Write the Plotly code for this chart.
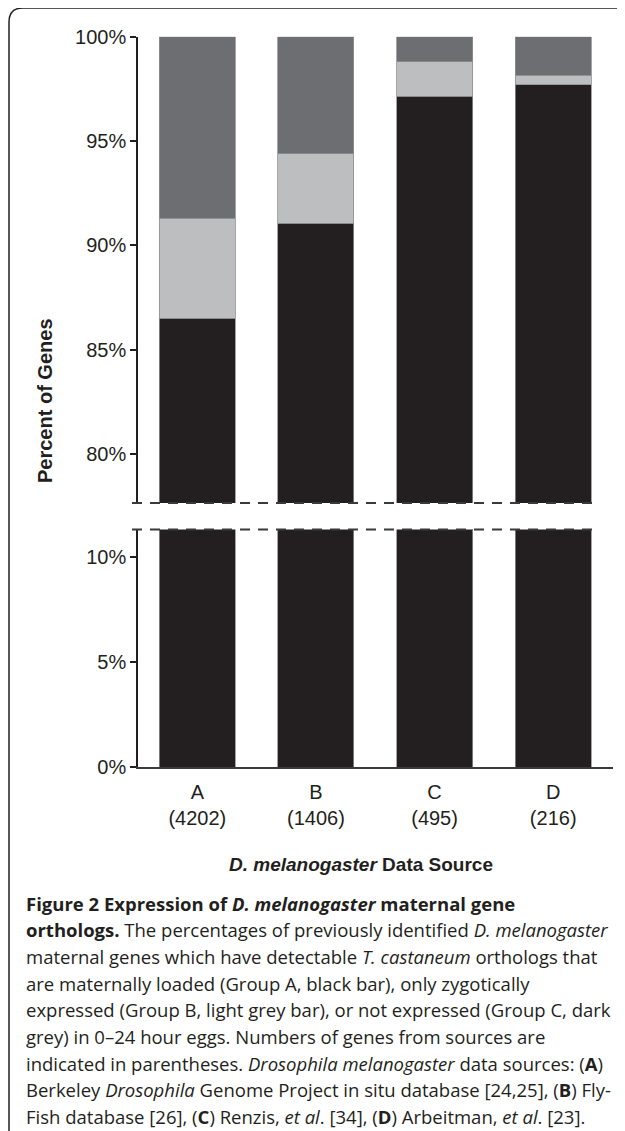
import plotly.graph_objects as go

categories = ["A<br>(4202)", "B<br>(1406)", "C<br>(495)", "D<br>(216)"]
maternal = [86.5, 91.05, 97.15, 97.7]       # Group A, black
zygotic = [4.8, 3.35, 1.65, 0.45]           # Group B, light grey
not_expressed = [8.7, 5.6, 1.2, 1.85]       # Group C, dark grey
top_ticks = [80, 85, 90, 95, 100]
bottom_ticks = [0, 5, 10]

W, H = 625, 1131
OX, OY = 8, 8  # page body margin offset compensation
def px(x):
    return (x - OX) / W
def py(y):
    return 1 - (y - OY) / H

colors = ["#231f20", "#bcbec0", "#6d6e71"]
series = [maternal, zygotic, not_expressed]

fig = go.Figure()
for xa, ya in [("x", "y"), ("x2", "y2")]:
    for vals, c in zip(series, colors):
        fig.add_trace(go.Bar(x=categories, y=vals, xaxis=xa, yaxis=ya,
                             marker=dict(color=c, line=dict(color="#8f8f8f", width=0.8)),
                             showlegend=False))

FONT = "Liberation Sans, Arial, sans-serif"
axis_col = "#231f20"
xdom = [px(138), px(612.5)]

fig.update_layout(
    width=W, height=H, barmode="stack", bargap=0.36,
    margin=dict(l=0, r=0, t=0, b=0, pad=0, autoexpand=False),
    paper_bgcolor="white", plot_bgcolor="white",
    font=dict(family=FONT, size=20, color=axis_col),
    xaxis=dict(domain=xdom, anchor="y", showticklabels=False, showline=False,
               ticks="", showgrid=False, zeroline=False, type="category"),
    yaxis=dict(domain=[py(503), py(36.7)], range=[77.65, 100], anchor="x",
               tickmode="array", tickvals=top_ticks,
               ticktext=[f"{v}%" for v in top_ticks], ticks="outside", ticklen=6,
               tickwidth=1.5, tickcolor=axis_col, showline=True, linecolor=axis_col,
               linewidth=1.5, showgrid=False, zeroline=False,
               tickfont=dict(size=20, family=FONT)),
    xaxis2=dict(domain=xdom, anchor="y2", showline=True, linecolor="#3a3a3a", linewidth=1.5,
                ticks="", showgrid=False, zeroline=False, type="category",
                ticklabelstandoff=6, tickfont=dict(size=20, family=FONT)),
    yaxis2=dict(domain=[py(767), py(529.5)], range=[0, 11.3], anchor="x2",
                tickmode="array", tickvals=bottom_ticks,
                ticktext=[f"{v}%" for v in bottom_ticks], ticks="outside", ticklen=6,
                tickwidth=1.5, tickcolor=axis_col, showline=True, linecolor=axis_col,
                linewidth=1.5, showgrid=False, zeroline=False,
                tickfont=dict(size=20, family=FONT)),
)

# break markers (dashed lines)
for yb in [503, 529.5]:
    fig.add_shape(type="line", xref="paper", yref="paper",
                  x0=px(132), x1=px(598), y0=py(yb), y1=py(yb),
                  line=dict(color="#3a3a3a", width=2, dash="10px,8px"))

# frame with rounded top-left corner
r = 14
path = (f"M {px(9)},{py(1140)} L {px(9)},{py(8 + r)} "
        f"Q {px(9)},{py(8)} {px(9 + r)},{py(8)} L {px(640)},{py(8)}")
fig.add_shape(type="path", xref="paper", yref="paper", path=path,
              line=dict(color="#231f20", width=1.5))

# axis titles
fig.add_annotation(text="<b>Percent of Genes</b>", textangle=-90, x=px(45), y=py(401),
                   xref="paper", yref="paper", xanchor="center", yanchor="middle",
                   showarrow=False, font=dict(size=20, family=FONT, color="#231f20"))
fig.add_annotation(text="<b><i>D. melanogaster</i> Data Source</b>", x=px(361), y=py(864),
                   xref="paper", yref="paper", xanchor="center", yanchor="middle",
                   showarrow=False, font=dict(size=19, family=FONT, color="#231f20"))

caption_lines = [
    "<b>Figure 2 Expression of <i>D. melanogaster</i> maternal gene</b>",
    "<b>orthologs.</b> The percentages of previously identified <i>D. melanogaster</i>",
    "maternal genes which have detectable <i>T. castaneum</i> orthologs that",
    "are maternally loaded (Group A, black bar), only zygotically",
    "expressed (Group B, light grey bar), or not expressed (Group C, dark",
    "grey) in 0–24 hour eggs. Numbers of genes from sources are",
    "indicated in parentheses. <i>Drosophila melanogaster</i> data sources: (<b>A</b>)",
    "Berkeley <i>Drosophila</i> Genome Project in situ database [24,25], (<b>B</b>) Fly-",
    "Fish database [26], (<b>C</b>) Renzis, <i>et al</i>. [34], (<b>D</b>) Arbeitman, <i>et al</i>. [23].",
]
for i, line in enumerate(caption_lines):
    fig.add_annotation(text=line, x=px(24), y=py(903 + i * 26.7), xref="paper", yref="paper",
                       xanchor="left", yanchor="middle", showarrow=False, align="left",
                       font=dict(size=18.5, family="Open Sans, sans-serif", color="#231f20"))

fig.write_html("out.html")
